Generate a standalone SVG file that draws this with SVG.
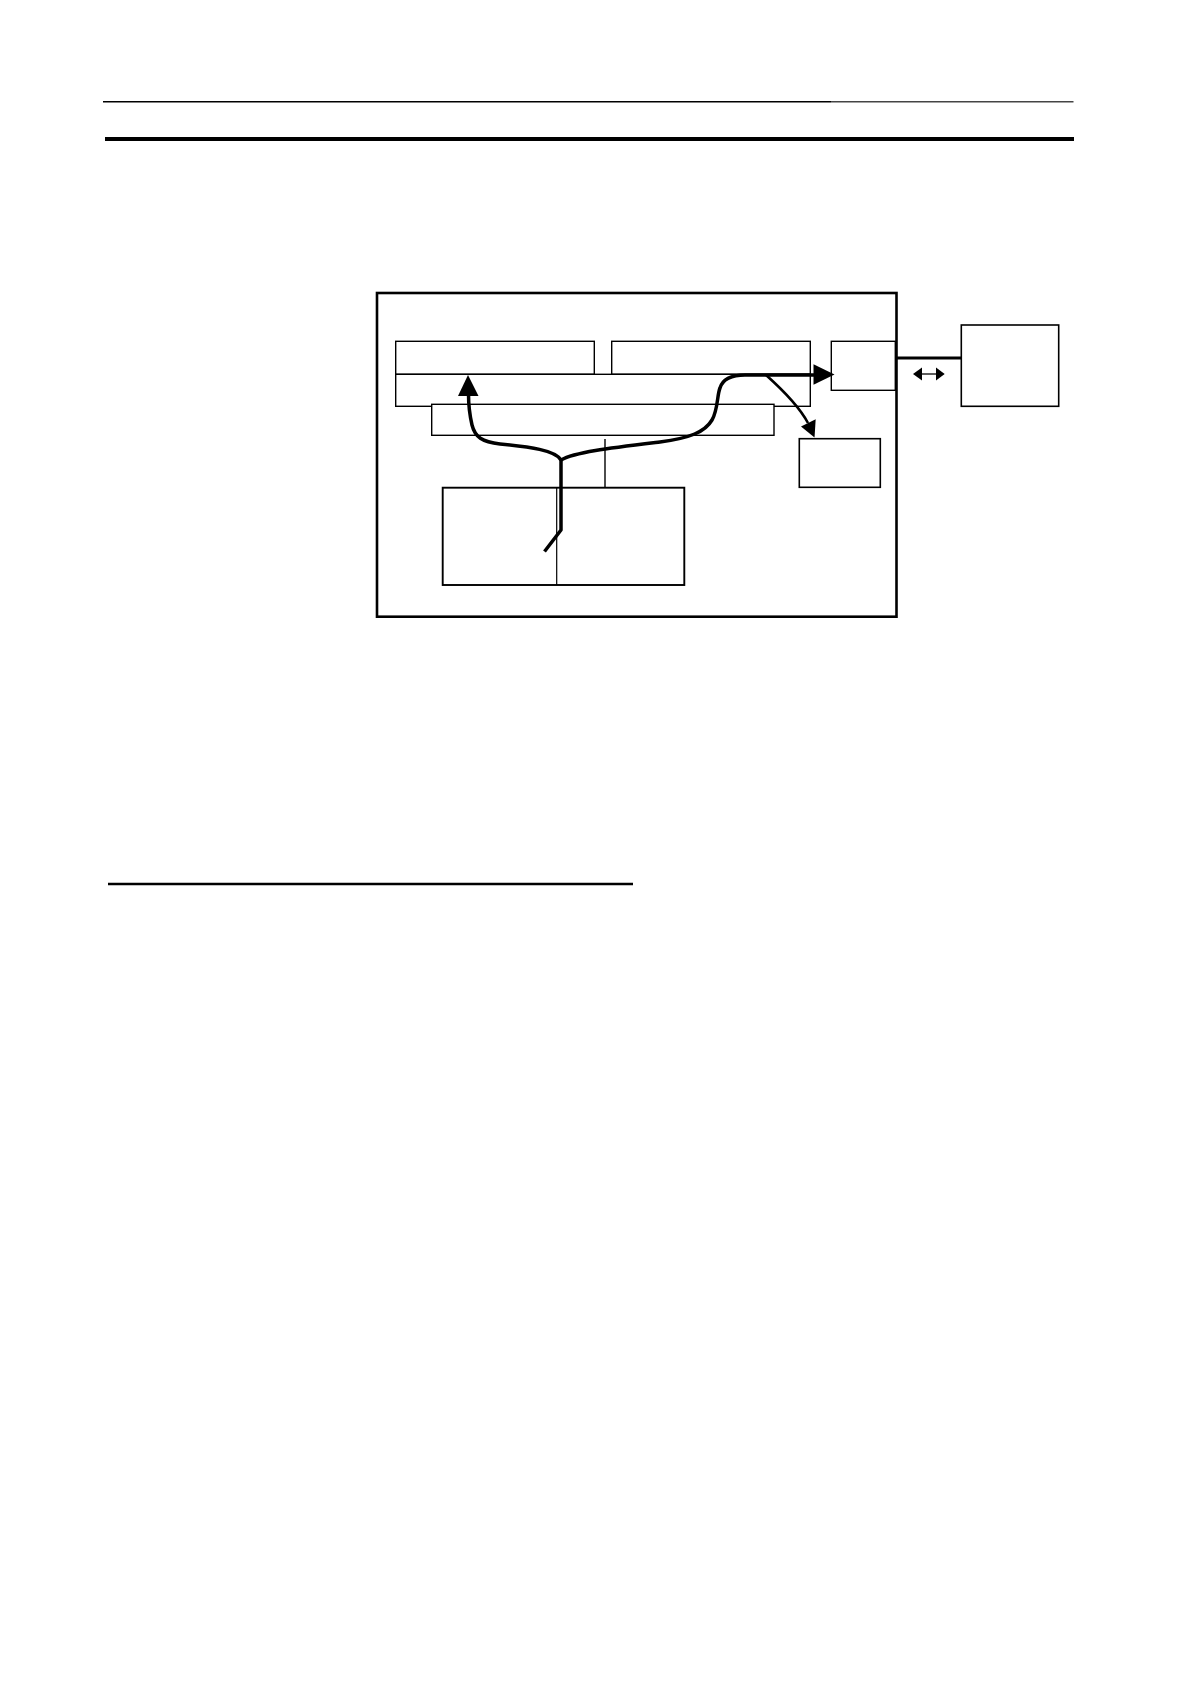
<svg xmlns="http://www.w3.org/2000/svg" width="1190" height="1684" viewBox="0 0 1190 1684">
<style>
  .bx{fill:#fff;stroke:#000;stroke-width:1.4}
  .thick{fill:none;stroke:#000;stroke-width:3.5;stroke-linejoin:round}
  .thin{fill:none;stroke:#000;stroke-width:1.4}
  .ah{fill:#000;stroke:none}
</style>
<rect width="1190" height="1684" fill="#fff"/>
<g id="page-rules">
  <line x1="103" y1="101.7" x2="831" y2="101.7" stroke="#000" stroke-width="1.4"/>
  <line x1="831" y1="101.7" x2="1073.5" y2="101.7" stroke="#444" stroke-width="1.5"/>
  <line x1="105" y1="139" x2="1074" y2="139" stroke="#000" stroke-width="4"/>
  <line x1="108" y1="884" x2="633" y2="884" stroke="#000" stroke-width="2.4"/>
</g>
<g id="outer-frame">
  <rect x="377" y="293" width="519.5" height="323.7" fill="none" stroke="#000" stroke-width="2.6"/>
</g>
<g id="node-top-left"><rect class="bx" x="395.7" y="341.3" width="198.6" height="33"/></g>
<g id="node-top-right"><rect class="bx" x="611.7" y="341.3" width="198.6" height="33"/></g>
<g id="node-wide"><rect class="bx" x="395.7" y="374.3" width="414.6" height="32"/></g>
<g id="node-bar"><rect class="bx" x="431.7" y="404.3" width="342.3" height="31"/></g>
<g id="node-port"><rect class="bx" x="831.3" y="341.3" width="64" height="49"/></g>
<g id="node-small"><rect class="bx" x="799.3" y="438.7" width="81" height="48.6" style="stroke-width:1.6"/></g>
<g id="node-lower">
  <rect class="bx" x="442.7" y="487.7" width="241.6" height="97.3" style="stroke-width:1.9"/>
  <line class="thin" x1="556.7" y1="487.7" x2="556.7" y2="585" style="stroke-width:1.2"/>
</g>
<g id="node-external"><rect class="bx" x="961.3" y="325" width="97.4" height="81.3" style="stroke-width:1.6"/></g>
<g id="connectors">
  <line class="thin" x1="605" y1="439" x2="605" y2="487.7"/>
  <line x1="896.5" y1="358" x2="961.3" y2="358" stroke="#000" stroke-width="3.2"/>
  <line x1="920" y1="374" x2="938" y2="374" stroke="#333" stroke-width="1.6"/>
  <polygon class="ah" points="913,374 922,367.5 922,380.5"/>
  <polygon class="ah" points="944.7,374 936,367.5 936,380.5"/>
  <path class="thick" d="M544.5,551.5 L561,530 L561,460"/>
  <path class="thick" d="M561,460 C555,450 530,447 500,444 C482,442 475,437 472,425 C469,412 468.5,402 468.5,394"/>
  <polygon class="ah" points="468,375 458,396 478.5,396"/>
  <path class="thick" d="M561,460 C575,452 610,448 660,442 C690,438 705,432 712,420 C718,410 717,395 720,388 C723,378 732,375 745,375 L816,375"/>
  <polygon class="ah" points="834.5,374.5 813.5,364.3 813.5,384.7"/>
  <path class="thin" style="stroke-width:2.6" d="M766,375 C785,392 800,408 808,423"/>
  <polygon class="ah" points="814.5,437.5 801,426.5 815.7,419.3"/>
</g>
</svg>
